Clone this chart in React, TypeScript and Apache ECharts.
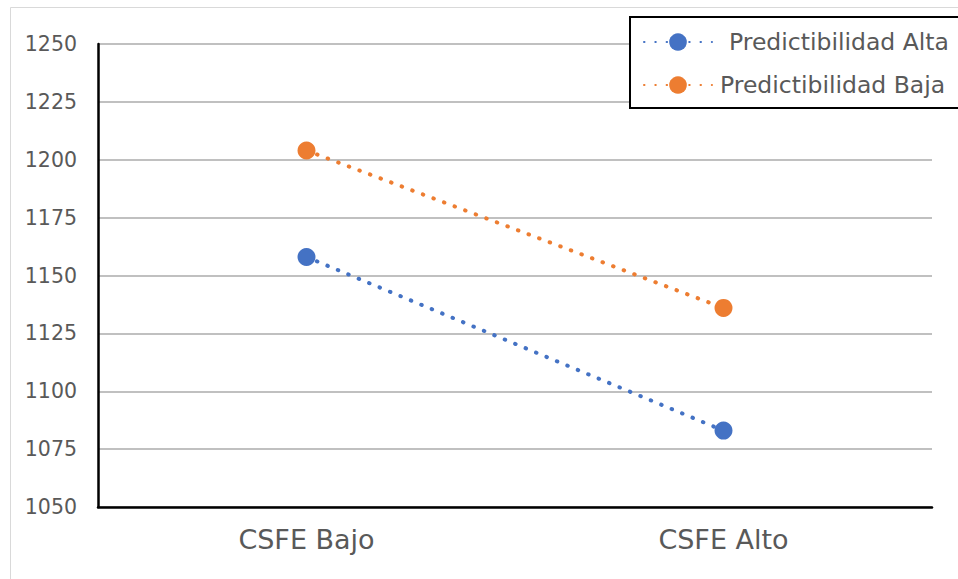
import React, { useEffect, useRef } from "react";
import * as echarts from "echarts";

const categories = ["CSFE Bajo", "CSFE Alto"];
const seriesNames = ["Predictibilidad Alta", "Predictibilidad Baja"];
const altaValues = [1158, 1083];
const bajaValues = [1204, 1136];
const yMin = 1050;
const yMax = 1250;
const yInterval = 25;

const FONT = "DejaVu Sans, Verdana, sans-serif";
const TEXT = "#595959";

export default function App() {
  const ref = useRef<HTMLDivElement>(null);
  useEffect(() => {
    if (!ref.current) return;
    const chart = echarts.init(ref.current, undefined, { renderer: "svg" });
    const lineStyle = (color: string) => ({
      color,
      width: 4,
      type: [0.5, 10.8] as any,
      cap: "round" as const,
    });
    chart.setOption({
      animation: false,
      backgroundColor: "#fff",
      graphic: [
        {
          type: "rect",
          shape: { x: 10.5, y: 7.5, width: 1000, height: 1000 },
          style: { fill: "none", stroke: "#d9d9d9", lineWidth: 1 },
          z: -1,
        },
      ],
      grid: { left: 98, top: 44, right: 26, bottom: 72 },
      legend: {
        orient: "vertical",
        left: 630,
        top: 17,
        padding: [11, 40, 9, 13],
        itemGap: 15,
        itemWidth: 68,
        itemHeight: 22,
        borderColor: "#000",
        borderWidth: 2,
        backgroundColor: "#fff",
        textStyle: { fontFamily: FONT, fontSize: 23.5, color: TEXT, lineHeight: 28 },
        data: [
          { name: seriesNames[0], textStyle: { padding: [0, 0, 0, 12] } },
          { name: seriesNames[1], textStyle: { padding: [0, 0, 0, 3] } },
        ],
      },
      xAxis: {
        type: "category",
        data: categories,
        boundaryGap: true,
        axisLine: { show: true, lineStyle: { color: "#000", width: 2.5 } },
        axisTick: { show: false },
        axisLabel: { fontFamily: FONT, fontSize: 27, color: TEXT, margin: 19 },
        splitLine: { show: false },
      },
      yAxis: {
        type: "value",
        min: yMin,
        max: yMax,
        interval: yInterval,
        axisLine: { show: true, lineStyle: { color: "#000", width: 2.5 } },
        axisTick: { show: false },
        axisLabel: {
          fontFamily: FONT,
          fontSize: 20.5,
          color: TEXT,
          margin: 21,
          formatter: (v: number) => String(v),
        },
        splitLine: { show: true, lineStyle: { color: "#ababab", width: 1.5 } },
      },
      series: [
        {
          name: seriesNames[0],
          type: "line",
          data: altaValues,
          symbol: "circle",
          symbolSize: 18,
          itemStyle: { color: "#4472C4" },
          lineStyle: lineStyle("#4472C4"),
        },
        {
          name: seriesNames[1],
          type: "line",
          data: bajaValues,
          symbol: "circle",
          symbolSize: 18,
          itemStyle: { color: "#ED7D31" },
          lineStyle: lineStyle("#ED7D31"),
        },
      ],
    });
    return () => chart.dispose();
  }, []);
  return (
    <div
      ref={ref}
      style={{ position: "fixed", left: 0, top: 0, width: 958, height: 579 }}
    />
  );
}
